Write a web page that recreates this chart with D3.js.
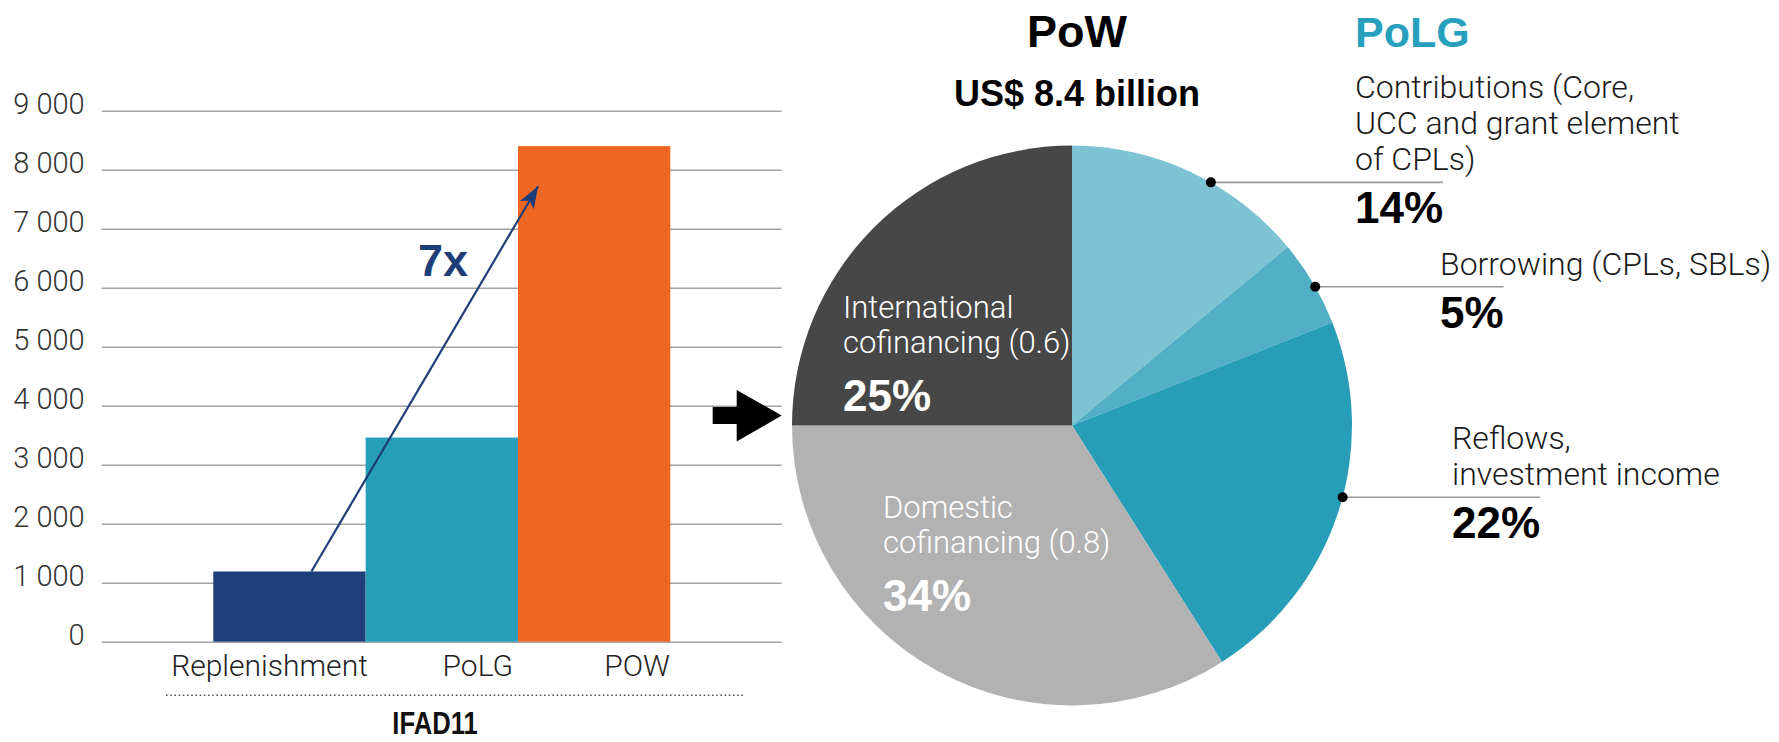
<!DOCTYPE html>
<html>
<head>
<meta charset="utf-8">
<script src="https://cdn.jsdelivr.net/npm/d3@7"></script>
<style>
  html, body { margin: 0; padding: 0; background: #fff; }
  svg { display: block; }
  .light { font-family: Roboto, 'Liberation Sans', Arial, sans-serif; font-weight: 300; }
  .bold { font-family: 'Liberation Sans', Arial, sans-serif; font-weight: 700; }
</style>
</head>
<body>
<svg id="chart" width="1779" height="742"></svg>
<script>
(function() {

	//Bar chart data (US$ million)
	var categories = ['Replenishment', 'PoLG', 'POW'];
	var amounts = [1190, 3460, 8400];
	var barColors = ['#1d3e78', '#279eb9', '#ef6522'];
	var yTicks = [0, 1000, 2000, 3000, 4000, 5000, 6000, 7000, 8000, 9000];
	var tickLabels = ['0', '1 000', '2 000', '3 000', '4 000', '5 000', '6 000', '7 000', '8 000', '9 000'];
	var groupLabel = 'IFAD11';
	var multipleLabel = '7x';
	var arrowFromValue = 1190,
		arrowToValue = 7720;

	//Pie chart data (share of PoW, %)
	var sliceNames = ['Contributions', 'Borrowing', 'Reflows', 'Domestic', 'International'];
	var sliceShares = [14, 5, 22, 34, 25];
	var sliceColors = ['#7dc3d3', '#52afc6', '#279db8', '#b2b2b2', '#474747'];
	var sliceLines = [
		['Contributions (Core,', 'UCC and grant element', 'of CPLs)'],
		['Borrowing (CPLs, SBLs)'],
		['Reflows,', 'investment income'],
		['Domestic', 'cofinancing (0.8)'],
		['International', 'cofinancing (0.6)']
	];
	var pieTitle = 'PoW',
		pieSubtitle = 'US$ 8.4 billion',
		polgTitle = 'PoLG';

	var svg = d3.select('#chart');

	//---------------- left: bar chart ----------------
	var gridLeft = 101.7,
		gridRight = 781.7,
		barLeft = 213.3,
		barRight = 670.3,
		plotTop = 110.7,
		plotBottom = 641.7,
		labelNudge = { 'Replenishment': -20, 'PoLG': 36, 'POW': 43 };

	var x = d3.scaleBand()
		.domain(categories)
		.range([barLeft, barRight])
		.padding(0);

	var y = d3.scaleLinear()
		.domain([0, 9000])
		.range([plotBottom, plotTop]);

	var axis = svg.append('g')
		.attr('class', 'y-axis')
		.attr('transform', 'translate(' + gridLeft + ',0)')
		.call(d3.axisLeft(y)
			.tickValues(yTicks)
			.tickSize(-(gridRight - gridLeft))
			.tickSizeOuter(0)
			.tickPadding(17)
			.tickFormat(function(d, i) { return tickLabels[i]; }));

	axis.select('.domain').remove();
	axis.selectAll('.tick line')
		.attr('stroke', '#a3a3a3')
		.attr('stroke-width', 1.6);
	axis.selectAll('.tick text')
		.attr('class', 'light')
		.attr('font-size', 29)
		.attr('fill', '#333')
		.attr('dy', '0.09em');

	svg.append('g')
		.selectAll('rect')
		.data(categories)
		.enter()
			.append('rect')
			.attr('x', function(d) { return x(d); })
			.attr('width', x.bandwidth())
			.attr('y', function(d, i) { return y(amounts[i]); })
			.attr('height', function(d, i) { return y(0) - y(amounts[i]); })
			.attr('fill', function(d, i) { return barColors[i]; });

	svg.append('g')
		.selectAll('text')
		.data(categories)
		.enter()
			.append('text')
			.attr('class', 'light')
			.attr('font-size', 30)
			.attr('fill', '#222')
			.attr('text-anchor', 'middle')
			.attr('x', function(d) { return x(d) + x.bandwidth() / 2 + labelNudge[d]; })
			.attr('y', plotBottom + 34)
			.text(function(d) { return d; });

	//dotted group bracket
	svg.append('line')
		.attr('x1', 166)
		.attr('x2', 745)
		.attr('y1', plotBottom + 53.5)
		.attr('y2', plotBottom + 53.5)
		.attr('stroke', '#555')
		.attr('stroke-width', 1.6)
		.attr('stroke-dasharray', '1.6,2.6');

	var groupText = svg.append('text')
		.attr('class', 'bold')
		.attr('font-size', 32)
		.attr('fill', '#111')
		.attr('text-anchor', 'middle')
		.attr('x', 435)
		.attr('y', 734)
		.text(groupLabel);

	//squeeze the condensed bold label
	groupText.attr('textLength', groupText.node().getComputedTextLength() * 0.8)
		.attr('lengthAdjust', 'spacingAndGlyphs');

	//growth arrow
	svg.append('defs').append('marker')
		.attr('id', 'head')
		.attr('markerUnits', 'userSpaceOnUse')
		.attr('markerWidth', 24)
		.attr('markerHeight', 18)
		.attr('refX', 22)
		.attr('refY', 8)
		.attr('orient', 'auto')
		.append('path')
			.attr('d', 'M0,0 L22,8 L0,16 L5,8 Z')
			.attr('fill', '#1d3e78');

	var ax1 = x('Replenishment') + x.bandwidth() * 0.644,
		ay1 = y(arrowFromValue),
		ax2 = x('POW') + x.bandwidth() * 0.132,
		ay2 = y(arrowToValue);

	svg.append('line')
		.attr('x1', ax1)
		.attr('y1', ay1)
		.attr('x2', ax2)
		.attr('y2', ay2)
		.attr('stroke', '#1d3e78')
		.attr('stroke-width', 2.2)
		.attr('marker-end', 'url(#head)');

	svg.append('text')
		.attr('class', 'bold')
		.attr('font-size', 45)
		.attr('fill', '#1d3e78')
		.attr('text-anchor', 'end')
		.attr('x', ax1 + (ax2 - ax1) * 0.7 - 2)
		.attr('y', ay1 + (ay2 - ay1) * 0.7 - 26)
		.text(multipleLabel);

	//block arrow between the two charts
	var pointer = [[0, -8.5], [24, -8.5], [24, -25.5], [69, 0], [24, 26], [24, 8.5], [0, 8.5]];
	svg.append('path')
		.attr('transform', 'translate(712.7,415.5)')
		.attr('d', d3.line()(pointer) + 'Z')
		.attr('fill', '#000');

	//---------------- right: pie chart ----------------
	var cx = 1072,
		cy = 425.5,
		radius = 280,
		lineGap = 36,
		outerLabelX = [1355, 1440, 1452],
		dotAt = [0.59, 0.55, 0.46],
		innerLabel = { 'Domestic': [-189, 92.5], 'International': [-229, -107.5] };

	var pie = d3.pie()
		.sort(null)
		.value(function(d) { return d; });

	var arcs = pie(sliceShares);

	var arc = d3.arc()
		.innerRadius(0)
		.outerRadius(radius);

	var pieGroup = svg.append('g')
		.attr('transform', 'translate(' + cx + ',' + cy + ')');

	pieGroup.selectAll('path')
		.data(arcs)
		.enter()
			.append('path')
			.attr('d', arc)
			.attr('fill', function(d, i) { return sliceColors[i]; });

	svg.append('text')
		.attr('class', 'bold')
		.attr('font-size', 45)
		.attr('fill', '#000')
		.attr('text-anchor', 'middle')
		.attr('x', cx + 5)
		.attr('y', 46.7)
		.text(pieTitle);

	svg.append('text')
		.attr('class', 'bold')
		.attr('font-size', 36)
		.attr('fill', '#000')
		.attr('text-anchor', 'middle')
		.attr('x', cx + 5)
		.attr('y', 106)
		.text(pieSubtitle);

	svg.append('text')
		.attr('class', 'bold')
		.attr('font-size', 43)
		.attr('fill', '#27a0bd')
		.attr('x', outerLabelX[0])
		.attr('y', 47)
		.text(polgTitle);

	//PoLG slices: labels outside with a leader line
	arcs.slice(0, 3).forEach(function(d, i) {

		var angle = d.startAngle + (d.endAngle - d.startAngle) * dotAt[i],
			dotX = cx + radius * Math.sin(angle),
			dotY = cy - radius * Math.cos(angle),
			lines = sliceLines[i],
			lx = outerLabelX[i];

		var label = svg.append('g');

		label.selectAll('text.name')
			.data(lines)
			.enter()
				.append('text')
				.attr('class', 'light name')
				.attr('font-size', 32)
				.attr('fill', '#1a1a1a')
				.attr('x', lx)
				.attr('y', function(t, j) { return dotY - 12 - (lines.length - 1 - j) * lineGap; })
				.text(function(t) { return t; });

		var pct = label.append('text')
			.attr('class', 'bold')
			.attr('font-size', 44)
			.attr('fill', '#000')
			.attr('x', lx)
			.attr('y', dotY + 41)
			.text(sliceShares[i] + '%');

		var box = pct.node().getBBox();

		label.insert('line', 'text')
			.attr('x1', dotX)
			.attr('x2', box.x + box.width)
			.attr('y1', dotY)
			.attr('y2', dotY)
			.attr('stroke', '#9a9a9a')
			.attr('stroke-width', 1.6);

		label.append('circle')
			.attr('cx', dotX)
			.attr('cy', dotY)
			.attr('r', 5)
			.attr('fill', '#000');
	});

	//cofinancing slices: labels inside in white
	arcs.slice(3).forEach(function(d, k) {

		var i = k + 3,
			name = sliceNames[i],
			lx = cx + innerLabel[name][0],
			ly = cy + innerLabel[name][1],
			lines = sliceLines[i];

		var label = svg.append('g');

		label.selectAll('text')
			.data(lines)
			.enter()
				.append('text')
				.attr('class', 'light')
				.attr('font-size', 31)
				.attr('fill', '#fff')
				.attr('x', lx)
				.attr('y', function(t, j) { return ly + j * 35; })
				.text(function(t) { return t; });

		label.append('text')
			.attr('class', 'bold')
			.attr('font-size', 44)
			.attr('fill', '#fff')
			.attr('x', lx)
			.attr('y', ly + 93)
			.text(sliceShares[i] + '%');
	});

}());
</script>
</body>
</html>
